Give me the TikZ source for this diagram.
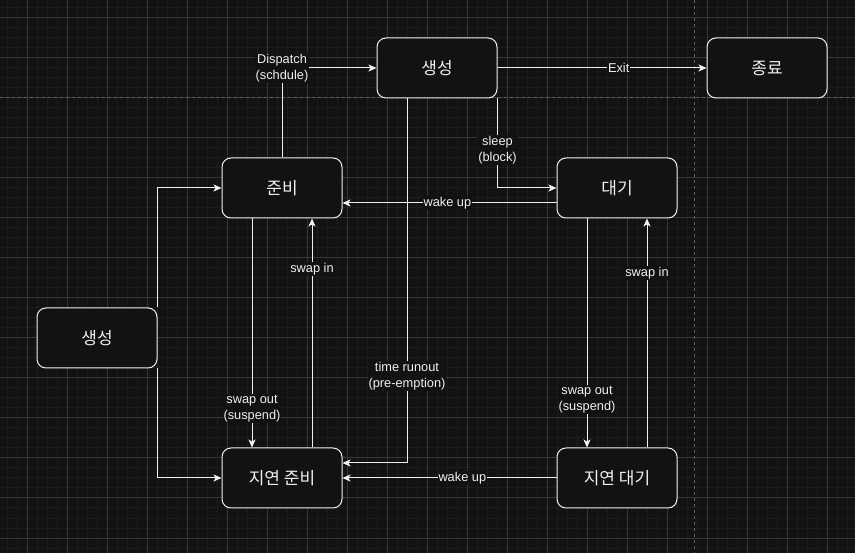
\documentclass[tikz,border=0pt]{standalone}
\usepackage{fontspec}
\setmainfont{Liberation Sans}
\newfontfamily\kr{Noto Sans CJK KR}
\usetikzlibrary{arrows.meta,calc}
\definecolor{bg}{HTML}{121212}
\definecolor{minorgrid}{HTML}{1C1C1C}
\definecolor{majorgrid}{HTML}{363636}
\definecolor{pagebrk}{HTML}{5E5E5E}
\definecolor{fg}{HTML}{F0F0F0}
\begin{document}
\begin{tikzpicture}[x=1pt,y=-1pt,
  state/.style={draw=fg, fill=bg, line width=1pt, rounded corners=9pt,
    minimum width=120pt, minimum height=60pt, inner sep=0pt, text=fg,
    font=\kr\fontsize{17}{20}\selectfont},
  conn/.style={draw=fg, line width=1pt, -{Stealth[length=8pt,width=7pt,inset=2pt]}},
  lbl/.style={fill=bg, text=fg, font=\fontsize{12.8}{16}\selectfont, align=center, inner sep=1pt}]
\fill[bg] (0,0) rectangle (855,553);
\useasboundingbox (0,0) rectangle (855,553);
% grid
\foreach \x in {7,17,...,855} \draw[minorgrid, line width=1pt] (\x,0) -- (\x,553);
\foreach \y in {8,18,...,553} \draw[minorgrid, line width=1pt] (0,\y) -- (855,\y);
\foreach \x in {27,67,...,855} \draw[majorgrid, line width=1pt] (\x,0) -- (\x,553);
\foreach \y in {18,58,...,553} \draw[majorgrid, line width=1pt] (0,\y) -- (855,\y);
\draw[pagebrk, line width=1pt, dash pattern=on 3pt off 3pt] (0,98) -- (855,98);
\draw[pagebrk, line width=1pt, dash pattern=on 3pt off 3pt] (694.5,0) -- (694.5,553);
% states
\node[state] (gen) at (437,68) {생성};
\node[state] (end) at (767,68) {종료};
\node[state] (ready) at (282,188) {준비};
\node[state] (wait) at (617,188) {대기};
\node[state] (new) at (97,338) {생성};
\node[state] (sready) at (282,478) {지연 준비};
\node[state] (swait) at (617,478) {지연 대기};
% connectors
\draw[conn] (ready.north) |- node[lbl, pos=0.5] {Dispatch\\(schdule)} (gen.west);
\draw[conn] (gen.east) -- node[lbl, pos=0.58] {Exit} (end.west);
\draw[conn] (gen.south east) |- node[lbl, pos=0.29] {sleep\\(block)} (wait.west);
\draw[conn] ($(wait.west)+(0,15)$) -- node[lbl, pos=0.51] {wake up} ($(ready.east)+(0,15)$);
\draw[conn] ($(gen.south)+(-30,0)$) |- node[lbl, pos=0.381] {time runout\\(pre-emption)} ($(sready.east)+(0,-15)$);
\draw[conn] ($(ready.south)+(-30,0)$) -- node[lbl, pos=0.83] {swap out\\(suspend)} ($(sready.north)+(-30,0)$);
\draw[conn] ($(sready.north)+(30,0)$) -- node[lbl, pos=0.778] {swap in} ($(ready.south)+(30,0)$);
\draw[conn] (new.north east) |- (ready.west);
\draw[conn] (new.south east) |- (sready.west);
\draw[conn] (swait.west) -- node[lbl, pos=0.44] {wake up} (sready.east);
\draw[conn] ($(wait.south)+(-30,0)$) -- node[lbl, pos=0.79] {swap out\\(suspend)} ($(swait.north)+(-30,0)$);
\draw[conn] ($(swait.north)+(30,0)$) -- node[lbl, pos=0.76] {swap in} ($(wait.south)+(30,0)$);
\end{tikzpicture}
\end{document}
